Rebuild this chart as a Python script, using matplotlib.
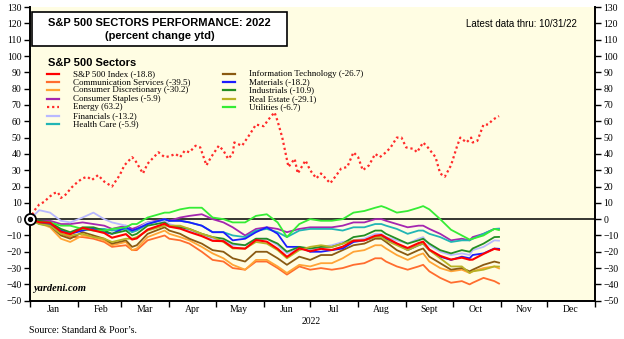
import matplotlib
matplotlib.use("Agg")
import matplotlib.pyplot as plt
import matplotlib.dates as mdates
import pandas as pd
from matplotlib.lines import Line2D
from matplotlib.patches import Rectangle
from matplotlib.ticker import FuncFormatter, MultipleLocator

plt.rcParams['font.family'] = ['Liberation Serif', 'DejaVu Serif']

# weekly closes plus a few mid-week turning points (% change ytd)
dates = pd.to_datetime([
    "2022-01-01", "2022-01-07", "2022-01-14", "2022-01-21", "2022-01-27",
    "2022-02-04", "2022-02-11", "2022-02-18", "2022-02-23",
    "2022-03-04", "2022-03-08", "2022-03-11", "2022-03-18", "2022-03-29",
    "2022-04-01", "2022-04-08", "2022-04-14", "2022-04-22", "2022-04-29",
    "2022-05-06", "2022-05-12", "2022-05-20", "2022-05-27",
    "2022-06-03", "2022-06-10", "2022-06-16", "2022-06-24",
    "2022-07-01", "2022-07-08", "2022-07-15", "2022-07-22", "2022-07-29",
    "2022-08-05", "2022-08-12", "2022-08-16", "2022-08-19", "2022-08-26",
    "2022-09-02", "2022-09-09", "2022-09-12", "2022-09-16", "2022-09-23", "2022-09-30",
    "2022-10-07", "2022-10-12", "2022-10-14", "2022-10-21", "2022-10-28", "2022-10-31",
])

sp500 = [0, -1.9, -2.2, -7.7, -9.2,
         -5.4, -6.9, -8.5, -11.4,
         -9.2, -12.5, -11.8, -6.4, -2.8,
         -4.6, -5.8, -7.9, -10.4, -13.3,
         -13.5, -17.5, -18.1, -12.8,
         -13.8, -18.2, -23.1, -17.9,
         -19.7, -18.2, -18.9, -16.9, -13.3,
         -13.0, -10.2, -9.7, -11.3, -14.9,
         -17.7, -14.7, -13.8, -18.7, -22.5, -24.8,
         -23.6, -24.9, -24.8, -21.3, -18.2, -18.8]
comm_svcs = [0, -1.5, -3.5, -9, -11,
             -11, -12, -14, -17,
             -16, -19, -19, -13, -10,
             -12, -13, -15, -20, -25,
             -26, -30, -31, -26,
             -26, -30, -34, -29,
             -31, -30, -31, -30, -28,
             -27, -24, -24, -26, -29,
             -31, -29, -28, -32, -36, -39,
             -38, -40, -39, -36, -38, -39.5]
cons_disc = [0, -2.5, -5, -12, -14,
             -10, -11, -13, -16,
             -14, -19, -18, -11, -7,
             -9, -11, -13, -17, -21,
             -24, -28, -31, -25,
             -25, -29, -33, -28,
             -29, -27, -27, -24, -20,
             -19, -16, -16, -18, -22,
             -25, -22, -21, -26, -30, -32,
             -31, -33, -32, -30, -29, -30.2]
cons_staples = [0, -1, -1, -3, -3,
                -2, -3, -4, -6,
                -4, -6, -5, -2, 0,
                -1, 1, 2, 3, 0,
                -2, -5, -10, -6,
                -5, -6, -8, -6,
                -5, -5, -5, -4, -2,
                -2, 0, 0, -1, -3,
                -5, -4, -4, -6, -9, -13,
                -12, -13, -11, -9, -6, -5.9]
financials = [0, 5.5, 4, -1, -2,
              1, 4, 0, -2,
              -4, -8, -6, -2, -1,
              -3, -5, -7, -10, -12,
              -13, -16, -16, -12,
              -12, -16, -21, -18,
              -19, -17, -16, -14, -13,
              -12, -9, -9, -11, -13,
              -15, -12, -11, -16, -20, -22,
              -21, -22, -19, -17, -13, -13.2]
health_care = [0, -3, -4, -7, -9,
               -6, -6, -6, -7,
               -6, -8, -7, -3, 0,
               -1, -1, -2, -4, -8,
               -8, -10, -11, -7,
               -6, -8, -11, -7,
               -6, -6, -6, -7, -5,
               -5, -3, -3, -4, -6,
               -9, -7, -7, -9, -11, -14,
               -13, -13, -12, -9, -6, -5.9]
info_tech = [0, -2.5, -4, -10, -12,
             -8, -10, -12, -15,
             -13, -17, -16, -9, -5,
             -7, -9, -12, -15, -19,
             -20, -24, -26, -20,
             -20, -24, -28, -23,
             -25, -22, -22, -19, -16,
             -15, -12, -12, -14, -19,
             -22, -19, -18, -23, -27, -31,
             -30, -32, -31, -28, -26, -26.7]
materials = [0, -2, -3, -7, -9,
             -7, -6, -8, -9,
             -5, -7, -6, -3, 0,
             -1, -1, -2, -4, -8,
             -8, -13, -12, -8,
             -5, -9, -17, -17,
             -20, -20, -19, -18, -14,
             -13, -11, -10, -12, -15,
             -19, -16, -15, -19, -23, -25,
             -23, -24, -22, -21, -18, -18.2]
industrials = [0, -1, -2, -6, -8,
               -5, -5, -7, -9,
               -7, -10, -9, -4, -2,
               -4, -5, -6, -9, -11,
               -12, -15, -16, -12,
               -12, -15, -20, -17,
               -18, -17, -17, -15, -11,
               -10, -7, -7, -9, -12,
               -15, -13, -12, -15, -19, -21,
               -19, -20, -18, -15, -11, -10.9]
real_estate = [0, -3, -4, -9, -10,
               -9, -11, -12, -14,
               -12, -12, -11, -7, -4,
               -4, -4, -6, -9, -11,
               -14, -18, -18, -14,
               -15, -19, -24, -19,
               -17, -16, -17, -15, -13,
               -13, -11, -11, -13, -16,
               -19, -16, -15, -19, -24, -29,
               -29, -33, -32, -31, -29, -29.1]
utilities = [0, -2, -2, -4, -4,
             -6, -7, -7, -6,
             -5, -3, -3, 1, 4,
             4, 6, 7, 7, 1,
             0, -2, -2, 2,
             3, -2, -11, -3,
             0, -1, -1, 0, 4,
             5, 7, 8, 7, 4,
             5, 7, 8, 6, 0, -6.5,
             -10, -12.5, -12, -10, -6, -6.7]

energy_dates = pd.to_datetime([
    "2022-01-01", "2022-01-04", "2022-01-07", "2022-01-10", "2022-01-14", "2022-01-17",
    "2022-01-19", "2022-01-21", "2022-01-24", "2022-01-28", "2022-02-01", "2022-02-04",
    "2022-02-07", "2022-02-10", "2022-02-14", "2022-02-18", "2022-02-23", "2022-02-28",
    "2022-03-03", "2022-03-08", "2022-03-10", "2022-03-15", "2022-03-18", "2022-03-22",
    "2022-03-25", "2022-03-29", "2022-04-01", "2022-04-05", "2022-04-08", "2022-04-11",
    "2022-04-14", "2022-04-18", "2022-04-21", "2022-04-25", "2022-04-28", "2022-05-03",
    "2022-05-06", "2022-05-09", "2022-05-12", "2022-05-13", "2022-05-18", "2022-05-23",
    "2022-05-27", "2022-06-01", "2022-06-04", "2022-06-08", "2022-06-10", "2022-06-13",
    "2022-06-17", "2022-06-21", "2022-06-23", "2022-06-28", "2022-07-01", "2022-07-05",
    "2022-07-08", "2022-07-14", "2022-07-18", "2022-07-21", "2022-07-25", "2022-07-29",
    "2022-08-01", "2022-08-04", "2022-08-08", "2022-08-12", "2022-08-15", "2022-08-19",
    "2022-08-22", "2022-08-26", "2022-08-29", "2022-09-01", "2022-09-06", "2022-09-08",
    "2022-09-12", "2022-09-15", "2022-09-20", "2022-09-23", "2022-09-26", "2022-09-30",
    "2022-10-04", "2022-10-06", "2022-10-10", "2022-10-13", "2022-10-14", "2022-10-17",
    "2022-10-21", "2022-10-24", "2022-10-27", "2022-10-31",
])
energy = [0, 5.5, 9, 10.5, 14, 16,
          16.5, 13, 15, 19.5, 23, 25,
          26, 24, 27, 23, 20, 27,
          33, 38, 36, 28, 34, 38,
          41, 38, 38.5, 40, 38, 42,
          41, 45, 44, 33, 38, 45,
          42, 37, 40, 47, 45, 52,
          58, 57, 61, 65.5, 60, 50,
          32, 37, 28, 36, 30, 25,
          28, 22, 27, 31, 32, 41,
          38, 30, 33, 40, 38, 41,
          44, 50, 50, 44, 43, 41,
          47, 44, 38, 28, 26, 33,
          45, 50, 47, 50, 47, 48,
          58, 58, 61, 63.2]

names = ["S&P 500 Index (-18.8)", "Communication Services (-39.5)",
         "Consumer Discretionary (-30.2)", "Consumer Staples (-5.9)",
         "Energy (63.2)", "Financials (-13.2)", "Health Care (-5.9)",
         "Information Technology (-26.7)", "Materials (-18.2)",
         "Industrials (-10.9)", "Real Estate (-29.1)", "Utilities (-6.7)"]
colors = ["#ff0000", "#ff6d2e", "#ffa436", "#a526b0", "#ff2a2a", "#b9b9ff",
          "#22b5b5", "#8a5a12", "#1c1cff", "#238e23", "#b9b224", "#35ec35"]
month_names = ["Jan", "Feb", "Mar", "Apr", "May", "Jun", "Jul", "Aug",
               "Sept", "Oct", "Nov", "Dec"]

fig = plt.figure(figsize=(6.24, 3.39), dpi=100)
ax = fig.add_axes([0.048, 0.113, 0.9055, 0.866])
ax.set_facecolor("#fffde3")

series = [comm_svcs, cons_disc, cons_staples, financials, health_care,
          info_tech, materials, industrials, real_estate, utilities]
cols = [colors[1], colors[2], colors[3], colors[5], colors[6],
        colors[7], colors[8], colors[9], colors[10], colors[11]]
ax.axhline(0, color="black", lw=1.1, zorder=1.5)
for vals, c in zip(series, cols):
    ax.plot(dates, vals, color=c, lw=1.3, zorder=2)
ax.plot(dates, sp500, color=colors[0], lw=1.5, zorder=3)
ax.plot(energy_dates, energy, color=colors[4], lw=1.6,
        linestyle=(0, (1, 1.3)), zorder=3)

start = pd.Timestamp("2022-01-01")
ax.plot([start], [0], marker="o", ms=8, mfc="white", mec="black", mew=1.3,
        zorder=5, clip_on=False)
ax.plot([start], [0], marker="o", ms=2.8, color="black", zorder=6, clip_on=False)

ax.set_xlim(pd.Timestamp("2022-01-01"), pd.Timestamp("2023-01-01"))
ax.set_ylim(-50, 130)
ax.yaxis.set_major_locator(MultipleLocator(10))
ax.tick_params(axis="y", left=True, right=True, labelleft=True, labelright=True,
               direction="out", length=4.5, width=1, labelsize=7, pad=1.5)
ax.xaxis.set_major_locator(mdates.MonthLocator())
ax.xaxis.set_major_formatter(FuncFormatter(lambda x, p: ""))
ax.xaxis.set_minor_locator(mdates.MonthLocator(bymonthday=16))
ax.xaxis.set_minor_formatter(
    FuncFormatter(lambda x, p: month_names[mdates.num2date(x).month - 1]))
ax.tick_params(axis="x", which="major", direction="out", length=4.5, width=1)
ax.tick_params(axis="x", which="minor", length=0, labelsize=7, pad=3)

for s in ["left", "right", "bottom"]:
    ax.spines[s].set_linewidth(1.4)
ax.spines["top"].set_visible(False)

ax.text(0.006, 0.025, "yardeni.com", transform=ax.transAxes, fontsize=7.5,
        fontweight="bold", fontstyle="italic", ha="left", va="bottom")

# title box
fig.add_artist(Rectangle((0.0513, 0.8643), 0.4087, 0.1003, transform=fig.transFigure,
                         facecolor="white", edgecolor="black", lw=1.2, zorder=10))
fig.text(0.2556, 0.931, "S&P 500 SECTORS PERFORMANCE: 2022", family="Liberation Sans",
         fontweight="bold", fontsize=8, ha="center", va="center", zorder=11)
fig.text(0.2556, 0.893, "(percent change ytd)", family="Liberation Sans",
         fontweight="bold", fontsize=8, ha="center", va="center", zorder=11)
fig.text(0.924, 0.929, "Latest data thru: 10/31/22", family="Liberation Sans",
         fontsize=7, ha="right", va="center")

# legend
fig.text(0.077, 0.814, "S&P 500 Sectors", family="Liberation Sans",
         fontweight="bold", fontsize=8, ha="left", va="center")
row_y = [73.7 + 8.4 * i for i in range(7)]
col_x = [(47, 73), (223, 249)]
for i, (lab, c) in enumerate(zip(names, colors)):
    col = 0 if i < 7 else 1
    row = i if i < 7 else i - 7
    x0, xt = col_x[col]
    y = 1 - row_y[row] / 339
    ls = (0, (1, 1.3)) if lab.startswith("Energy") else "-"
    fig.add_artist(Line2D([x0 / 624, (x0 + 12) / 624], [y, y], color=c, lw=1.6,
                          linestyle=ls, transform=fig.transFigure))
    fig.text(xt / 624, y, lab, fontsize=6.5, ha="left", va="center")

fig.text(0.498, 0.053, "2022", fontsize=7, ha="center", va="center")
fig.text(0.047, 0.026, "Source: Standard & Poor\u2019s.", fontsize=7, ha="left", va="center")

fig.savefig("out.png", dpi=100)
